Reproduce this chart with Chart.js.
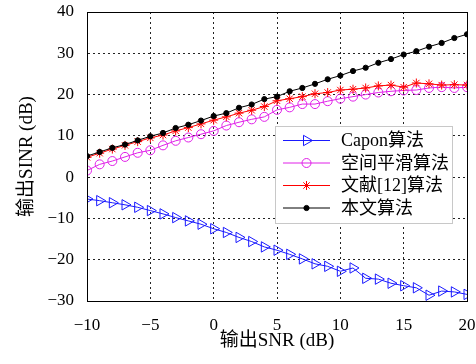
<!DOCTYPE html>
<html>
<head>
<meta charset="utf-8">
<script src="https://cdn.jsdelivr.net/npm/chart.js@4"></script>
<style>
html,body{margin:0;padding:0;background:#fff;}
#wrap{width:476px;height:364px;position:relative;}
</style>
</head>
<body>
<div id="wrap"><canvas id="c" width="476" height="364"></canvas></div>
<script>
const snr = [-10,-9,-8,-7,-6,-5,-4,-3,-2,-1,0,1,2,3,4,5,6,7,8,9,10,11,12,13,14,15,16,17,18,19,20];
const capon = [-5.3,-5.7,-6.2,-6.7,-7.3,-8.1,-8.9,-9.8,-10.6,-11.4,-12.5,-13.4,-14.6,-15.6,-16.9,-17.7,-18.7,-19.8,-21.0,-21.6,-22.8,-22.0,-24.5,-24.7,-25.7,-26.3,-26.8,-28.6,-27.6,-27.8,-28.4];
const smoothing = [1.6,3.1,3.9,4.9,5.9,6.5,7.7,8.8,9.6,10.4,11.2,12.5,13.3,14.0,14.6,16.3,16.9,17.7,17.7,18.4,19.0,19.5,20.0,20.5,20.8,21.0,21.1,21.6,21.8,21.6,21.8];
const ref12 = [4.8,5.8,6.8,7.7,8.6,9.5,10.2,11.2,12.0,12.9,13.8,14.6,15.5,16.2,17.1,18.5,19.0,19.5,20.2,20.5,21.1,21.3,21.6,22.1,22.3,21.8,22.8,22.6,22.3,22.4,22.3];
const proposed = [5.1,6.1,7.1,7.9,8.9,9.9,10.7,11.9,12.7,13.7,14.8,15.5,16.8,17.6,18.9,19.5,20.8,21.6,22.6,23.7,24.6,25.7,26.5,27.7,28.6,29.7,30.5,31.6,32.5,33.7,34.6];
const seriesNames = ['Capon算法','空间平滑算法','文献[12]算法','本文算法'];
const xTicks = [-10,-5,0,5,10,15,20];
const yTicks = [-30,-20,-10,0,10,20,30,40];
const xTitle = '输出SNR (dB)';
const yTitle = '输出SINR (dB)';

const FONT_FAMILY = '"Liberation Serif", "Noto Sans CJK SC", serif';
const fmt = v => (v < 0 ? '\u2212' + Math.abs(v) : String(v));

function pts(ys){ return snr.map((x,i)=>({x:x,y:ys[i]})); }

const styles = [
  {color:'#1a1aff', pointStyle:'triangle', rotation:90, radius:6, fill:'rgba(0,0,0,0)'},
  {color:'#e020e8', pointStyle:'circle', rotation:0, radius:4.5, fill:'rgba(0,0,0,0)'},
  {color:'#ff0000', pointStyle:'star', rotation:0, radius:4.5, fill:'rgba(0,0,0,0)'},
  {color:'#000000', pointStyle:'circle', rotation:0, radius:2.6, fill:'#000000'}
];
const allData = [capon, smoothing, ref12, proposed];

const datasets = allData.map((d,i)=>({
  label: seriesNames[i],
  data: pts(d),
  borderColor: styles[i].color,
  backgroundColor: styles[i].fill,
  pointBackgroundColor: styles[i].fill,
  pointBorderColor: styles[i].color,
  pointStyle: styles[i].pointStyle,
  pointRotation: styles[i].rotation,
  pointRadius: styles[i].radius,
  pointBorderWidth: 1,
  borderWidth: 1,
  tension: 0,
  fill: false,
  order: 3 - i
}));

const frame = {
  id:'frame',
  afterDatasetsDraw(chart){
    const {ctx, chartArea:a} = chart;
    ctx.save();
    ctx.strokeStyle = '#000';
    ctx.lineWidth = 1;
    ctx.setLineDash([]);
    ctx.strokeRect(Math.round(a.left)+0.5, Math.round(a.top)+0.5, Math.round(a.right-a.left), Math.round(a.bottom-a.top));
    // axis titles
    ctx.fillStyle = '#000';
    ctx.font = '19px ' + FONT_FAMILY;
    ctx.textAlign = 'center';
    ctx.textBaseline = 'middle';
    ctx.fillText(xTitle, (a.left + a.right) / 2, 341);
    ctx.save();
    ctx.translate(27, (a.top + a.bottom) / 2);
    ctx.rotate(-Math.PI / 2);
    ctx.fillText(yTitle, 0, 0);
    ctx.restore();
    // legend
    const bx = a.left + 188, by = a.top + 114, bw = 177, bh = 97;
    ctx.fillStyle = '#fff';
    ctx.fillRect(bx, by, bw, bh);
    ctx.strokeStyle = '#c8c8c8';
    ctx.strokeRect(bx+0.5, by+0.5, bw, bh);
    ctx.font = '18px ' + FONT_FAMILY;
    ctx.textBaseline = 'middle';
    ctx.textAlign = 'left';
    for (let i=0;i<4;i++){
      const y = by + 14.5 + i*22.5;
      ctx.strokeStyle = styles[i].color;
      ctx.lineWidth = 1;
      ctx.beginPath();
      ctx.moveTo(bx+8, y); ctx.lineTo(bx+55, y); ctx.stroke();
      ctx.strokeStyle = styles[i].color;
      ctx.fillStyle = styles[i].fill;
      Chart.helpers.drawPoint(ctx, {pointStyle:styles[i].pointStyle, rotation:styles[i].rotation, radius:styles[i].radius, borderWidth:1}, bx+31.5, y);
      ctx.fillStyle = '#000';
      ctx.fillText(seriesNames[i], bx+66, y+1);
    }
    ctx.restore();
  }
};

function zeroPad(s){ s.paddingTop = 0; s.paddingBottom = 0; s.paddingLeft = 0; s.paddingRight = 0; }

new Chart(document.getElementById('c'), {
  type:'line',
  data:{datasets},
  plugins:[frame],
  options:{
    responsive:false,
    animation:false,
    devicePixelRatio:1,
    layout:{padding:{top:12,right:9,left:0,bottom:0}},
    plugins:{legend:{display:false}, tooltip:{enabled:false}},
    scales:{
      x:{
        type:'linear', min:-10, max:20,
        afterFit(s){ s.height = 63; zeroPad(s); },
        afterBuildTicks(s){ s.ticks = xTicks.map(v=>({value:v})); },
        ticks:{color:'#000', font:{family:FONT_FAMILY, size:17}, padding:14, maxRotation:0, callback:v=>fmt(v)},
        grid:{color:'#222', drawTicks:false, lineWidth:1},
        border:{display:true, color:'#000', dash:[2,3]},
        title:{display:false}
      },
      y:{
        type:'linear', min:-30, max:40,
        afterFit(s){ s.width = 87; zeroPad(s); },
        afterBuildTicks(s){ s.ticks = yTicks.map(v=>({value:v})); },
        ticks:{color:'#000', font:{family:FONT_FAMILY, size:17}, padding:13, callback:v=>fmt(v)},
        grid:{color:'#222', drawTicks:false, lineWidth:1},
        border:{display:true, color:'#000', dash:[2,3]},
        title:{display:false}
      }
    }
  }
});
</script>
</body>
</html>
